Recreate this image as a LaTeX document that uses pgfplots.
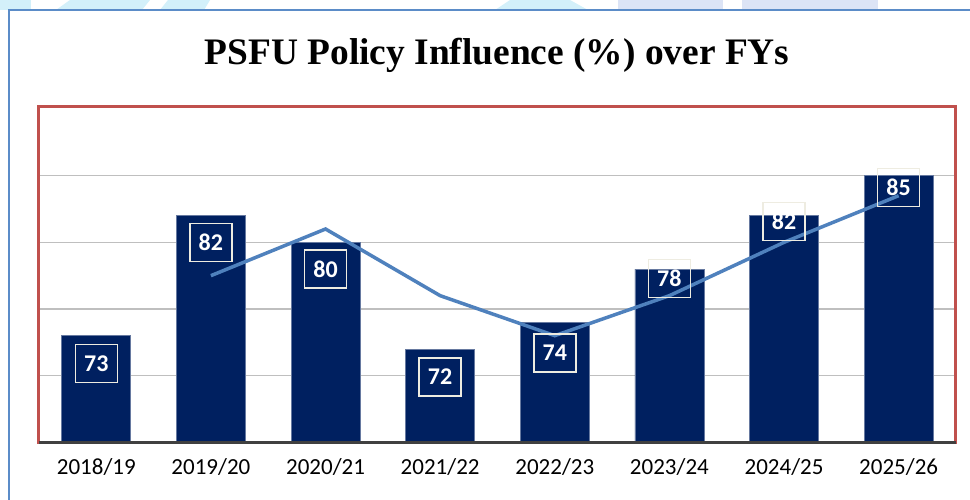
\documentclass[border=0pt]{standalone}
\usepackage{pgfplots}
\pgfplotsset{compat=1.18}
\usepackage{fontspec}
\setmainfont{Liberation Serif}
\newfontfamily\calfont{Carlito}
\definecolor{navy}{HTML}{002060}
\definecolor{trend}{HTML}{4F81BD}
\definecolor{axred}{HTML}{C0504D}
\definecolor{frameblue}{HTML}{5B8CC8}
\definecolor{gridc}{HTML}{BFBFBF}
\definecolor{basec}{HTML}{404040}
\definecolor{boxc}{HTML}{EEECE1}
\definecolor{wm1}{HTML}{D3F0FA}
\definecolor{wm2}{HTML}{DCE4F6}

\pgfplotstableread{
x val
0 73
1 82
2 80
3 72
4 74
5 78
6 82
7 85
}\bars

\pgfplotstableread{
x ma
1 77.5
2 81
3 76
4 73
5 76
6 80
7 83.5
}\trendline

\pgfplotstableread{
x pos lab
0 70.9 73
1 80.0 82
2 78.0 80
3 69.9 72
4 71.7 74
5 77.3 78
6 81.55 82
7 84.1 85
}\labels

\begin{document}
\begin{tikzpicture}[x=1pt,y=1pt]
\useasboundingbox (0,0) rectangle (970,499);
\clip (0,0) rectangle (970,499);
\fill[white] (0,0) rectangle (970,499);
% faint watermark at the top edge
\fill[wm1] (0,489) rectangle (31,499);
\fill[wm1] (56,489) -- (142,489) -- (150,499) -- (70,499) -- cycle;
\fill[wm1] (160,489) -- (204,489) -- (210,499) -- (168,499) -- cycle;
\fill[wm1] (495,489) -- (588,489) -- (570,499) -- (510,499) -- cycle;
\fill[wm2] (618,489) rectangle (723,499);
\fill[wm2] (742,489) rectangle (878,499);
% outer frame
\draw[frameblue, line width=2.5] (9,-5) -- (9,489) -- (980,489);
% title
\node[anchor=base, font=\bfseries\fontsize{37.4}{37.4}\selectfont] at (497,434) {PSFU Policy Influence (\%) over FYs};
\begin{axis}[
  at={(34,42.5)}, anchor=south west,
  scale only axis, width=917pt, height=336pt,
  xmin=-0.5, xmax=7.5, ymin=65, ymax=90.2,
  xtick={0,...,7},
  xticklabels={2018/19,2019/20,2020/21,2021/22,2022/23,2023/24,2024/25,2025/26},
  xticklabel style={font=\calfont\fontsize{23}{23}\selectfont, anchor=center, yshift=-25pt},
  ytick={70,75,80,85}, yticklabels={},
  ymajorgrids, major grid style={gridc, line width=1.5pt},
  major tick length=0pt,
  axis line style={draw=axred, line width=3pt},
  clip=false,
]
\addplot[ybar, bar width=69pt, fill=navy, draw=navy!60!white, line width=0.8pt] table[x=x, y=val] {\bars};
\addplot[trend, line width=3.5pt, sharp plot, mark=none] table[x=x, y=ma] {\trendline};
\addplot[only marks, mark=none, point meta=explicit symbolic,
  nodes near coords,
  every node near coord/.style={anchor=center, draw=boxc, line width=1.5pt, text=white,
    font=\calfont\bfseries\fontsize{24}{24}\selectfont, minimum width=42pt, minimum height=38pt, inner sep=0pt}]
  table[x=x, y=pos, meta=lab] {\labels};
\draw[basec, line width=3pt] (rel axis cs:0,0) -- (rel axis cs:1,0);
\end{axis}
\end{tikzpicture}
\end{document}
